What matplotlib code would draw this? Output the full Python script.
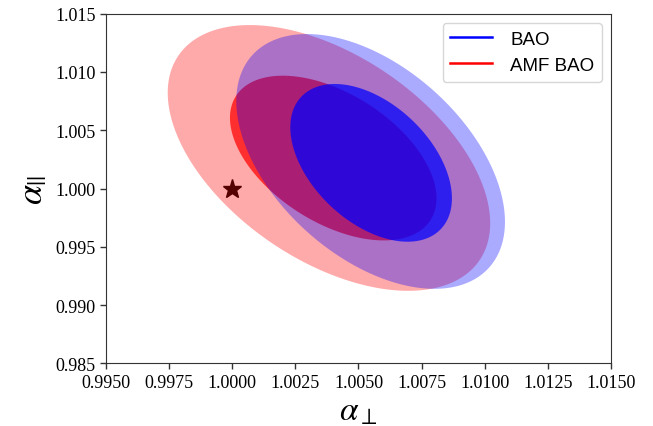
import numpy as np
import matplotlib
matplotlib.use("Agg")
import matplotlib.pyplot as plt
from matplotlib.lines import Line2D

plt.rcParams['mathtext.fontset'] = 'stix'

# Data: series (drawn in this order), each with two confidence contours
series = ["AMF BAO", "BAO"]
series_colors = ["red", "blue"]
# contour centres (alpha_perp, alpha_par) for outer, inner contour
amf_center_x = [1.00383, 1.0040]
amf_center_y = [1.00262, 1.00261]
amf_half_x = [0.006385, 0.00409]
amf_half_y = [0.01139, 0.00706]
amf_rho = [-0.491, -0.489]

bao_center_x = [1.00548, 1.0055]
bao_center_y = [1.00232, 1.0022]
bao_half_x = [0.00532, 0.0032]
bao_half_y = [0.01092, 0.00676]
bao_rho = [-0.474, -0.45]

fiducial_x = [1.0]
fiducial_y = [1.0]

xticks = [0.9950, 0.9975, 1.0000, 1.0025, 1.0050, 1.0075, 1.0100, 1.0125, 1.0150]
yticks = [0.985, 0.990, 0.995, 1.000, 1.005, 1.010, 1.015]

fig = plt.figure(figsize=(6.53, 4.27), dpi=100)
ax = fig.add_axes([0.1623, 0.1464, 0.7734, 0.8196])

ax.plot(fiducial_x, fiducial_y, marker='*', color='black', markersize=14,
        linestyle='none', zorder=0.9)

t = np.linspace(0, 2 * np.pi, 400)
alphas = [0.333, 0.72]
groups = [
    (amf_center_x, amf_center_y, amf_half_x, amf_half_y, amf_rho),
    (bao_center_x, bao_center_y, bao_half_x, bao_half_y, bao_rho),
]
for (cx, cy, hx, hy, rh), col in zip(groups, series_colors):
    for i in range(2):
        xs = cx[i] + hx[i] * np.cos(t)
        ys = cy[i] + hy[i] * (rh[i] * np.cos(t) + np.sqrt(1 - rh[i] ** 2) * np.sin(t))
        ax.fill(xs, ys, color=col, alpha=alphas[i], linewidth=0, zorder=1)

ax.set_xlim(0.995, 1.015)
ax.set_ylim(0.985, 1.015)
ax.set_xticks(xticks)
ax.set_xticklabels([f"{v:.4f}" for v in xticks])
ax.set_yticks(yticks)
ax.set_yticklabels([f"{v:.3f}" for v in yticks])
for lab in ax.get_xticklabels() + ax.get_yticklabels():
    lab.set_fontfamily('Liberation Serif')
    lab.set_fontsize(13)
ax.tick_params(direction='out', length=4, width=1, color='#333333')
for s in ax.spines.values():
    s.set_color('#333333')

ax.set_xlabel(r'$\alpha_{\perp}$', fontsize=24, labelpad=2)
ax.set_ylabel(r'$\alpha_{||}$', fontsize=26, labelpad=4)

handles = [Line2D([], [], color='blue', lw=1.8), Line2D([], [], color='red', lw=1.8)]
ax.legend(handles, ["BAO", "AMF BAO"], loc='upper right',
          prop={'family': 'Liberation Sans', 'size': 13.5},
          handlelength=2.25, handletextpad=0.95, frameon=True, fancybox=True,
          edgecolor='#cccccc')

fig.savefig("out.png", dpi=100)
